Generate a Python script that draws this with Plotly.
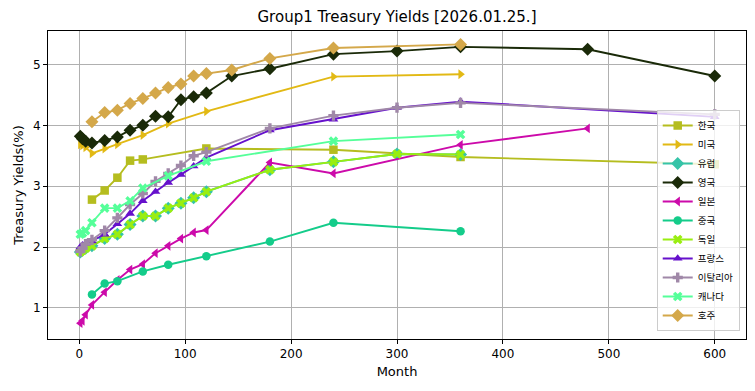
import plotly.graph_objects as go

title = "Group1 Treasury Yields [2026.01.25.]"

kr_x = [12, 24, 36, 48, 60, 120, 240, 360, 600]
kr_y = [2.78, 2.93, 3.14, 3.42, 3.44, 3.62, 3.60, 3.48, 3.36]

us_x = [1, 3, 6, 12, 24, 36, 60, 84, 120, 240, 360]
us_y = [3.69, 3.67, 3.64, 3.54, 3.62, 3.69, 3.84, 4.03, 4.23, 4.80, 4.84]

eu_x = [1, 3, 6, 12, 24, 36, 48, 60, 72, 84, 96, 108, 120, 180, 240, 300, 360]
eu_y = [1.92, 1.95, 1.98, 2.02, 2.14, 2.21, 2.37, 2.51, 2.51, 2.64, 2.72, 2.81, 2.91, 3.27, 3.40, 3.53, 3.52]

uk_x = [1, 3, 6, 12, 24, 36, 48, 60, 72, 84, 96, 108, 120, 144, 180, 240, 300, 360, 480, 600]
uk_y = [3.82, 3.78, 3.74, 3.71, 3.75, 3.81, 3.92, 4.00, 4.15, 4.14, 4.42, 4.47, 4.53, 4.81, 4.93, 5.17, 5.22, 5.29, 5.25, 4.81]

jp_x = [1, 3, 6, 12, 24, 36, 48, 60, 72, 84, 96, 108, 120, 180, 240, 360, 480]
jp_y = [0.75, 0.79, 0.89, 1.05, 1.26, 1.46, 1.63, 1.72, 1.90, 2.02, 2.14, 2.24, 2.28, 3.39, 3.21, 3.68, 3.95]

cn_x = [12, 24, 36, 60, 84, 120, 180, 240, 360]
cn_y = [1.22, 1.40, 1.44, 1.60, 1.71, 1.85, 2.09, 2.40, 2.26]

de_x = [1, 3, 6, 12, 24, 36, 48, 60, 72, 84, 96, 108, 120, 180, 240, 300, 360]
de_y = [1.92, 1.95, 1.98, 2.02, 2.14, 2.21, 2.37, 2.51, 2.51, 2.64, 2.72, 2.81, 2.91, 3.27, 3.40, 3.53, 3.52]

fr_x = [1, 3, 6, 12, 24, 36, 48, 60, 72, 84, 96, 108, 120, 180, 240, 300, 360, 600]
fr_y = [2.00, 2.03, 2.06, 2.10, 2.21, 2.38, 2.55, 2.76, 2.91, 3.06, 3.19, 3.33, 3.47, 3.92, 4.10, 4.29, 4.39, 4.14]

it_x = [1, 3, 6, 12, 24, 36, 48, 60, 72, 84, 96, 108, 120, 180, 240, 300, 360, 600]
it_y = [1.93, 1.98, 2.05, 2.12, 2.27, 2.48, 2.70, 2.88, 3.08, 3.21, 3.34, 3.50, 3.56, 3.95, 4.16, 4.29, 4.37, 4.18]

ca_x = [1, 3, 6, 12, 24, 36, 48, 60, 84, 120, 240, 360]
ca_y = [2.21, 2.23, 2.27, 2.40, 2.64, 2.64, 2.76, 2.97, 3.17, 3.41, 3.74, 3.85]

au_x = [12, 24, 36, 48, 60, 72, 84, 96, 108, 120, 144, 180, 240, 360]
au_y = [4.06, 4.21, 4.25, 4.36, 4.44, 4.53, 4.62, 4.68, 4.81, 4.85, 4.91, 5.10, 5.27, 5.33]

series = [
    ("한국", kr_x, kr_y, "#b5bd1f", "square"),
    ("미국", us_x, us_y, "#e2b914", "triangle-right"),
    ("유럽", eu_x, eu_y, "#36c4a8", "diamond"),
    ("영국", uk_x, uk_y, "#1a2a08", "diamond"),
    ("일본", jp_x, jp_y, "#cc0aaa", "triangle-left"),
    ("중국", cn_x, cn_y, "#14cc8a", "circle"),
    ("독일", de_x, de_y, "#99ee11", "x"),
    ("프랑스", fr_x, fr_y, "#6611cc", "triangle-up"),
    ("이탈리아", it_x, it_y, "#a088a8", "cross"),
    ("캐나다", ca_x, ca_y, "#55ff99", "x"),
    ("호주", au_x, au_y, "#d4a84a", "diamond"),
]

fig = go.Figure()
for name, xs, ys, color, sym in series:
    fig.add_trace(go.Scatter(
        x=xs, y=ys, name=name, mode="lines+markers",
        line=dict(color=color, width=1.9),
        marker=dict(color=color, symbol=sym, size=10 if sym == "diamond" else 8.5,
                    line=dict(width=0)),
    ))

axis_common = dict(
    showline=True, linecolor="black", linewidth=1, mirror=True,
    showgrid=True, gridcolor="#b0b0b0", gridwidth=1,
    ticks="outside", ticklen=4, tickcolor="black",
    tickfont=dict(family="DejaVu Sans", size=12, color="black"),
    zeroline=False, automargin=False,
)

fig.update_layout(
    width=755, height=391,
    margin=dict(l=48, r=9, t=31, b=52),
    paper_bgcolor="white", plot_bgcolor="white",
    title=dict(text=title, xref="paper", x=0.5, xanchor="center", y=0.957, yanchor="middle",
               font=dict(family="DejaVu Sans", size=15, color="black")),
    xaxis=dict(range=[-29.5, 629.5], tickvals=[0, 100, 200, 300, 400, 500, 600],
               title=dict(text="Month", font=dict(family="DejaVu Sans", size=13, color="black"), standoff=6),
               **axis_common),
    yaxis=dict(range=[0.49, 5.55], tickvals=[1, 2, 3, 4, 5],
               title=dict(text="Treasury Yields(%)", font=dict(family="DejaVu Sans", size=13, color="black"), standoff=6),
               **axis_common),
    legend=dict(x=0.991, y=0.026, xanchor="right", yanchor="bottom",
                bgcolor="rgba(255,255,255,0.8)", bordercolor="#cccccc", borderwidth=1,
                font=dict(family="Noto Sans CJK KR", size=9.5, color="black"),
                tracegroupgap=0, itemwidth=30),
    showlegend=True,
)

fig.write_html("out.html", config={"displayModeBar": False},
               post_script="document.body.style.margin='0';")
